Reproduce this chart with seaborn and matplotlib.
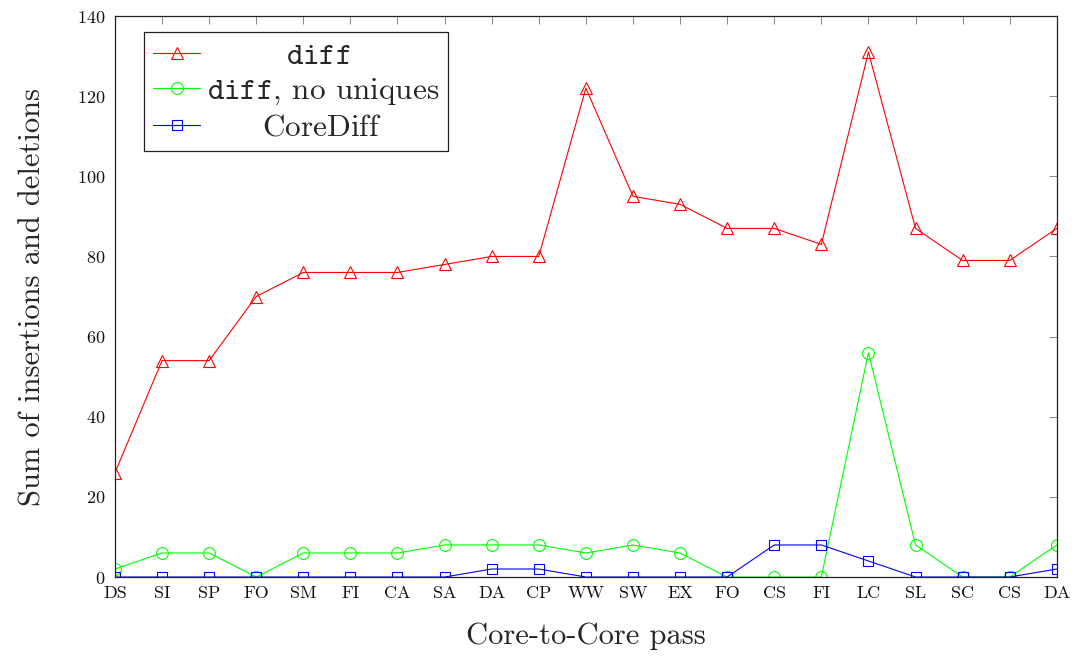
import matplotlib
matplotlib.use("Agg")
import matplotlib.pyplot as plt
import seaborn as sns
import pandas as pd

passes = ["DS", "SI", "SP", "FO", "SM", "FI", "CA", "SA", "DA", "CP", "WW",
          "SW", "EX", "FO", "CS", "FI", "LC", "SL", "SC", "CS", "DA"]
diff_vals = [26, 54, 54, 70, 76, 76, 76, 78, 80, 80, 122,
             95, 93, 87, 87, 83, 131, 87, 79, 79, 87]
diff_nouniq_vals = [2, 6, 6, 0, 6, 6, 6, 8, 8, 8, 6,
                    8, 6, 0, 0, 0, 56, 8, 0, 0, 8]
corediff_vals = [0, 0, 0, 0, 0, 0, 0, 0, 2, 2, 0,
                 0, 0, 0, 8, 8, 4, 0, 0, 0, 2]
y_ticks = [0, 20, 40, 60, 80, 100, 120, 140]
series_labels = [r"$\mathtt{diff}$", r"$\mathtt{diff}$, no uniques", "CoreDiff"]

sns.set_theme(style="white")
plt.rcParams["font.family"] = ["cmr10", "DejaVu Serif"]
plt.rcParams["mathtext.fontset"] = "cm"
plt.rcParams["axes.formatter.use_mathtext"] = True

styles = [("#ff0000", "^", 8.0), ("#00ff00", "o", 8.5), ("#0000ff", "s", 7.5)]
all_vals = [diff_vals, diff_nouniq_vals, corediff_vals]

fig = plt.figure(figsize=(10.74, 6.59), dpi=100)
ax = fig.add_axes([0.107, 0.1244, 0.877, 0.8513])

idx = list(range(len(passes)))
for label, vals, (color, marker, ms) in zip(series_labels, all_vals, styles):
    df = pd.DataFrame({"pos": idx, "value": vals})
    sns.lineplot(data=df, x="pos", y="value", ax=ax, color=color,
                 marker=marker, markersize=ms, markerfacecolor="none",
                 markeredgecolor=color, markeredgewidth=0.8,
                 linewidth=0.8, label=label)

ax.set_xlim(0, len(passes) - 1)
ax.set_ylim(0, 140)
ax.set_xticks(idx)
ax.set_xticklabels(passes)
ax.set_yticks(y_ticks)

for side in ["left", "right", "top", "bottom"]:
    ax.spines[side].set_color("#222222")
    ax.spines[side].set_linewidth(0.9)

ax.tick_params(axis="both", which="major", direction="in", length=5.5,
               width=0.7, color="#888888", labelsize=13,
               top=True, right=True, labelcolor="#111111")
ax.tick_params(axis="y", pad=7)
ax.tick_params(axis="x", pad=6)

ax.set_xlabel("Core-to-Core pass", fontsize=22, labelpad=16)
ax.set_ylabel("Sum of insertions and deletions", fontsize=22, labelpad=22)

legend_fs = 22.5
legend_kw = dict(loc="upper left", bbox_to_anchor=(0.031, 0.971), fontsize=legend_fs,
                 frameon=True, fancybox=False, edgecolor="#222222",
                 framealpha=1, handlelength=1.5, handletextpad=0.2,
                 borderpad=0.3, labelspacing=0.22, borderaxespad=0)

# Centre each legend label within the widest one by prefixing a math space.
handles, _ = ax.get_legend_handles_labels()
renderer = fig.canvas.get_renderer()
probe = [fig.text(0, 0, s, fontsize=legend_fs) for s in series_labels]
unit = fig.text(0, 0, r"$\hspace{1}$x", fontsize=legend_fs)
base = fig.text(0, 0, r"x", fontsize=legend_fs)
widths = [t.get_window_extent(renderer).width for t in probe]
em = unit.get_window_extent(renderer).width - base.get_window_extent(renderer).width
for t in probe + [unit, base]:
    t.remove()
wmax = max(widths)
centred = []
for s, w in zip(series_labels, widths):
    pad = (wmax - w) / 2 / em
    centred.append(s if pad < 0.05 else r"$\hspace{%.3f}$" % pad + s)

leg = ax.legend(handles, centred, **legend_kw)
leg.get_frame().set_linewidth(0.9)

fig.savefig("out.png", dpi=100)
